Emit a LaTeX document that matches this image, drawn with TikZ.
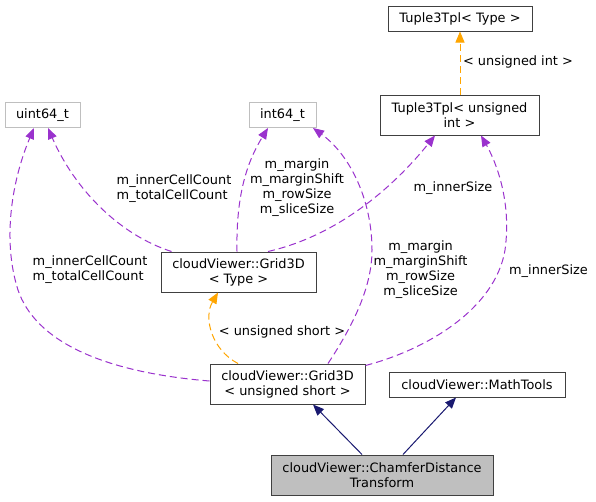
\documentclass[tikz,border=0pt]{standalone}
\usepackage{fontspec}
\setmainfont{DejaVu Sans}
\usetikzlibrary{arrows.meta,calc}
\definecolor{purp}{HTML}{9A32CD}
\definecolor{orng}{HTML}{FFA500}
\definecolor{navyb}{HTML}{191970}
\definecolor{boxline}{HTML}{404040}
\definecolor{greyline}{HTML}{BFBFBF}
\begin{document}
\begin{tikzpicture}[x=1pt,y=-1pt,
  every node/.style={font=\fontsize{12.9}{15}\selectfont},
  cls/.style={draw=boxline, line width=1pt, inner sep=0pt, align=center, fill=white},
  ext/.style={draw=greyline, line width=1pt, inner sep=0pt, align=center, fill=white},
  lbl/.style={inner sep=0pt},
  tipA/.style={-{Triangle[length=11pt,width=9pt]}},
  inh/.style={navyb, line width=1pt, tipA},
  tmpl/.style={orng, line width=1pt, dash pattern=on 7pt off 4pt, tipA},
  usage/.style={purp, line width=1pt, dash pattern=on 7pt off 4pt, tipA}
]
\useasboundingbox (0,0) rectangle (596,501);

% nodes
\node[cls, minimum width=144pt, minimum height=25pt] (t3T) at (460,18.5) {Tuple3Tpl< Type >};
\node[cls, minimum width=159pt, minimum height=40pt] (t3u) at (459.5,115) {Tuple3Tpl< unsigned\\int >};
\node[ext, minimum width=75pt, minimum height=25pt] (u64) at (42.5,115) {uint64\_t};
\node[ext, minimum width=67pt, minimum height=25pt] (i64) at (282.5,115) {int64\_t};
\node[cls, minimum width=155pt, minimum height=40pt] (gt) at (238.5,272) {cloudViewer::Grid3D\\< Type >};
\node[cls, minimum width=155pt, minimum height=40pt] (gus) at (287.5,384) {cloudViewer::Grid3D\\< unsigned short >};
\node[cls, minimum width=176pt, minimum height=25pt] (mt) at (477,384.5) {cloudViewer::MathTools};
\node[cls, fill={rgb,255:red,191;green,191;blue,191}, minimum width=222pt, minimum height=40pt] (cd) at (382,475) {cloudViewer::ChamferDistance\\Transform};

% inheritance
\draw[inh] ($(cd.north)+(-20,0)$) -- ($(gus.south)+(25.5,0)$);
\draw[inh] ($(cd.north)+(21,0)$) -- ($(mt.south)+(-21,0)$);

% template instantiation
\draw[tmpl] ($(gus.north)+(-49.5,0)$) .. controls (212,350) and (203,318) .. ($(gt.south)+(-20.5,0)$);
\draw[tmpl] (t3u.north -| t3T.south) -- (t3T.south);

% usage
\draw[usage] ($(gt.north west)+(11,0)$) .. controls (120,235) and (75,190) .. ($(u64.south)+(5.5,0)$);
\draw[usage] ($(gt.north)+(-1.5,0)$) .. controls (236,200) and (245,165) .. ($(i64.south)+(-14.5,0)$);
\draw[usage] ($(gt.north)+(29.5,0)$) .. controls (340,235) and (395,185) .. ($(t3u.south)+(-24.5,0)$);
\draw[usage] ($(gus.west)+(0,-3)$) .. controls (100,372) and (35,340) .. (18,290) .. controls (2,240) and (12,180) .. ($(u64.south)+(-8.5,0)$);
\draw[usage] ($(gus.north)+(40.5,0)$) .. controls (350,330) and (372,290) .. (372,250) .. controls (372,200) and (350,155) .. ($(i64.south)+(30.5,0)$);
\draw[usage] ($(gus.north east)+(0,2)$) .. controls (425,350) and (495,310) .. (505,250) .. controls (512,200) and (495,160) .. ($(t3u.south)+(21.5,0)$);

% labels
\node[lbl] (l1) at (282,332) {< unsigned short >};
\node[lbl] (l2) at (518,62) {< unsigned int >};
\node[lbl, align=left] (l3) at (174,189) {m\_innerCellCount\\m\_totalCellCount};
\node[lbl, align=center] (l4) at (297,188) {m\_margin\\m\_marginShift\\m\_rowSize\\m\_sliceSize};
\node[lbl] (l5) at (453,188) {m\_innerSize};
\node[lbl, align=left] (l6) at (90,270) {m\_innerCellCount\\m\_totalCellCount};
\node[lbl, align=center] (l7) at (420.5,270) {m\_margin\\m\_marginShift\\m\_rowSize\\m\_sliceSize};
\node[lbl] (l8) at (548.5,271) {m\_innerSize};
\end{tikzpicture}
\end{document}
